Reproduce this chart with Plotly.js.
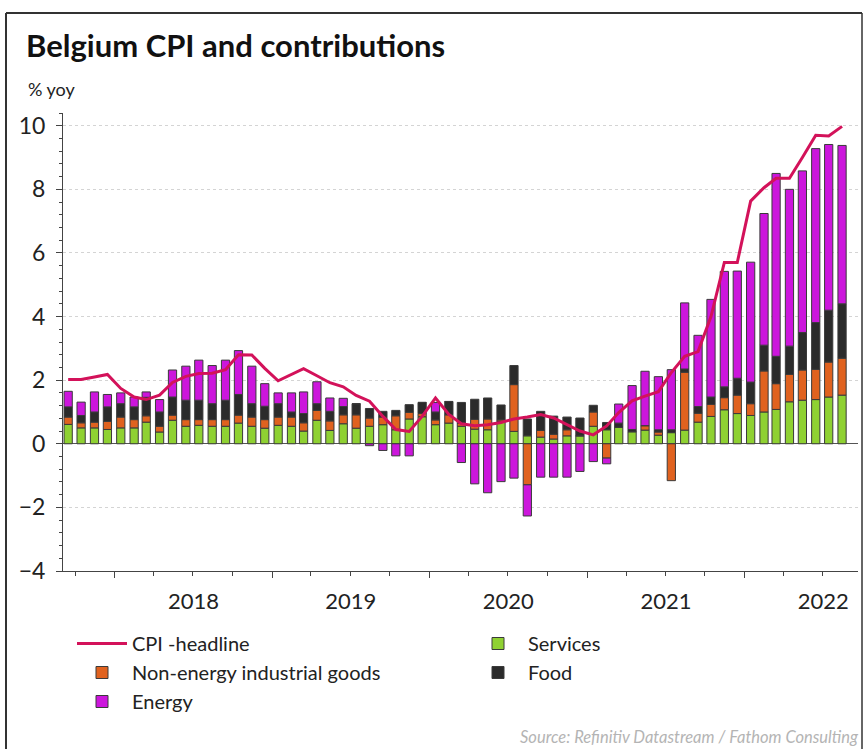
<!DOCTYPE html>
<html>
<head>
<meta charset="utf-8">
<script src="https://cdn.plot.ly/plotly-3.0.1.min.js"></script>
<style>
html,body{margin:0;padding:0;background:#fff;}
#chart{width:868px;height:749px;}
</style>
</head>
<body>
<div id="chart"></div>
<script>
// Monthly observations (plotted mid-month)
const months = [
 '2017-09-15','2017-10-15','2017-11-15','2017-12-15',
 '2018-01-15','2018-02-15','2018-03-15','2018-04-15','2018-05-15','2018-06-15','2018-07-15','2018-08-15','2018-09-15','2018-10-15','2018-11-15','2018-12-15',
 '2019-01-15','2019-02-15','2019-03-15','2019-04-15','2019-05-15','2019-06-15','2019-07-15','2019-08-15','2019-09-15','2019-10-15','2019-11-15','2019-12-15',
 '2020-01-15','2020-02-15','2020-03-15','2020-04-15','2020-05-15','2020-06-15','2020-07-15','2020-08-15','2020-09-15','2020-10-15','2020-11-15','2020-12-15',
 '2021-01-15','2021-02-15','2021-03-15','2021-04-15','2021-05-15','2021-06-15','2021-07-15','2021-08-15','2021-09-15','2021-10-15','2021-11-15','2021-12-15',
 '2022-01-15','2022-02-15','2022-03-15','2022-04-15','2022-05-15','2022-06-15','2022-07-15','2022-08-15'
];

const services = [
 0.61,0.50,0.50,0.45,
 0.50,0.50,0.68,0.37,0.74,0.55,0.58,0.55,0.55,0.65,0.55,0.49,
 0.58,0.55,0.40,0.74,0.42,0.63,0.49,0.55,0.60,0.44,0.78,0.85,
 0.60,0.65,0.55,0.46,0.44,0.70,0.39,0.25,0.21,0.15,0.25,0.25,
 0.55,0.44,0.52,0.38,0.43,0.27,0.35,0.43,0.68,0.86,1.07,0.95,
 0.89,1.00,1.08,1.32,1.37,1.39,1.47,1.53
];

const nonEnergyGoods = [
 0.23,0.16,0.18,0.25,
 0.34,0.26,0.20,0.18,0.16,0.21,0.18,0.21,0.21,0.25,0.29,0.27,
 0.26,0.29,0.26,0.31,0.30,0.28,0.42,0.26,0.24,0.44,0.21,0.10,
 0.15,0.26,0.10,0.31,0.34,0.05,1.47,-1.29,0.21,0.15,0.19,0.00,
 0.45,-0.45,0.00,0.00,0.14,0.10,-1.16,1.82,0.28,0.38,0.38,0.58,
 0.37,1.29,0.81,0.86,0.95,0.95,1.10,1.16
];

const food = [
 0.32,0.23,0.32,0.46,
 0.42,0.40,0.58,0.45,0.57,0.61,0.61,0.50,0.61,0.65,0.42,0.42,
 0.42,0.16,0.29,0.21,0.30,0.26,0.35,0.30,0.18,0.17,0.24,0.35,
 0.25,0.42,0.65,0.63,0.66,0.47,0.60,0.53,0.60,0.57,0.40,0.56,
 0.21,0.23,0.13,0.07,0.00,0.07,0.09,0.10,0.21,0.23,0.34,0.53,
 0.68,0.81,0.86,0.89,1.18,1.47,1.63,1.71
];

const energy = [
 0.49,0.42,0.63,0.39,
 0.34,0.31,0.17,0.39,0.85,1.07,1.26,1.20,1.26,1.38,1.18,0.71,
 0.34,0.60,0.68,0.69,0.42,0.26,0.00,-0.06,-0.21,-0.38,-0.38,0.00,
 0.30,0.00,-0.59,-1.26,-1.54,-1.19,-1.08,-0.98,-1.05,-1.05,-1.05,-0.87,
 -0.56,-0.18,0.60,1.38,1.71,1.67,1.89,2.08,2.24,3.07,3.63,3.37,
 3.77,4.14,5.75,4.93,5.08,5.47,5.21,4.98
];

const cpiHeadline = [
 2.02,2.02,2.10,2.18,
 1.74,1.47,1.39,1.53,1.93,2.12,2.21,2.22,2.33,2.80,2.79,2.37,
 1.98,2.18,2.36,2.14,1.92,1.79,1.52,1.34,0.86,0.45,0.39,0.86,
 1.44,0.92,0.63,0.57,0.60,0.67,0.78,0.84,0.92,0.81,0.60,0.40,
 0.28,0.56,0.98,1.35,1.50,1.64,2.24,2.75,2.90,4.00,5.70,5.70,
 7.63,8.05,8.35,8.35,9.00,9.70,9.68,9.98
];

const FONT = 'Lato, "Open Sans", "Liberation Sans", sans-serif';
const BAR_W = 1.65e9;
const OUTLINE = {color:'#3a3a3a', width:1};

function barTrace(name, y, color, leg, rank){
  return {type:'bar', name:name, x:months, y:y, width:BAR_W,
    marker:{color:color, line:OUTLINE}, legend:leg, legendrank:rank, hoverinfo:'x+y+name'};
}

const data = [
  barTrace('Services', services, '#8fd132', 'legend2', 1),
  barTrace('Non-energy industrial goods', nonEnergyGoods, '#e0621f', 'legend', 2),
  barTrace('Food', food, '#2b2b2b', 'legend2', 2),
  barTrace('Energy', energy, '#cc16dc', 'legend', 3),
  {type:'scatter', mode:'lines', name:'CPI -headline', x:months, y:cpiHeadline,
   line:{color:'#d3125a', width:3}, legend:'legend', legendrank:1}
];

// plot area: left 63, right 858, top 113, bottom 571
const L=63, R=10, T=113, B=178, W=868, H=749;
const PW = W-L-R, PH = H-T-B;
function px(x){return (x-L)/PW;}
function py(y){return (H-B-y)/PH;}

const legendCommon = {
  orientation:'v', xanchor:'left', yanchor:'top',
  font:{family:FONT, size:20, color:'#222'}, itemwidth:50,
  bgcolor:'rgba(0,0,0,0)', traceorder:'normal', tracegroupgap:0
};

const layout = {
  width:W, height:H,
  margin:{l:L, r:R, t:T, b:B, autoexpand:false},
  paper_bgcolor:'#ffffff', plot_bgcolor:'#ffffff',
  font:{family:FONT, color:'#222', size:20},
  barmode:'relative',
  bargap:0,
  title:{text:'<b>Belgium CPI and contributions</b>', font:{family:FONT, size:31, color:'#111'},
         x:26/W, xref:'container', xanchor:'left', y:1-46/H, yref:'container', yanchor:'middle'},
  xaxis:{type:'date', range:['2017-09-03','2022-09-21'],
    tick0:'2018-01-01', dtick:'M12', ticklabelmode:'period',
    ticks:'outside', ticklen:6, tickcolor:'#444',
    minor:{dtick:'M3', ticks:'outside', ticklen:4, tickcolor:'#444', showgrid:false},
    showgrid:false, zeroline:false, showline:true, linecolor:'#444', linewidth:1,
    tickfont:{family:FONT, size:22, color:'#222'}, ticklabelstandoff:5, fixedrange:true},
  yaxis:{range:[-4,10.4], dtick:2, tick0:0,
    ticks:'outside', ticklen:6, tickcolor:'#444',
    minor:{dtick:0.4, ticks:'outside', ticklen:3, tickcolor:'#444', showgrid:false},
    showgrid:true, gridcolor:'#d4d4d4', griddash:'dot', gridwidth:1,
    zeroline:true, zerolinecolor:'#555', zerolinewidth:1,
    showline:true, linecolor:'#444', linewidth:1,
    tickfont:{family:FONT, size:23, color:'#222'}, ticklabelstandoff:6, fixedrange:true},
  showlegend:true,
  legend:Object.assign({}, legendCommon, {x:px(72), y:py(624)}),
  legend2:Object.assign({}, legendCommon, {x:px(468), y:py(624)}),
  annotations:[
    {text:'% yoy', xref:'paper', yref:'paper', x:px(26), y:py(89), xanchor:'left', yanchor:'middle',
     showarrow:false, font:{family:FONT, size:18, color:'#222'}},
    {text:'<i>Source: Refinitiv Datastream / Fathom Consulting</i>', xref:'paper', yref:'paper',
     x:px(861), y:py(737), xanchor:'right', yanchor:'middle', showarrow:false,
     font:{family:FONT, size:16.5, color:'#b4b4b4'}}
  ],
  shapes:[
    {type:'line', xref:'paper', yref:'paper', x0:px(6), x1:px(6), y0:py(13), y1:py(760), line:{color:'#333', width:2}},
    {type:'line', xref:'paper', yref:'paper', x0:px(6), x1:px(862), y0:py(13), y1:py(13), line:{color:'#333', width:2}},
    {type:'line', xref:'paper', yref:'paper', x0:px(862), x1:px(862), y0:py(13), y1:py(760), line:{color:'#333', width:1.5}}
  ]
};

Plotly.newPlot('chart', data, layout, {displayModeBar:false, staticPlot:true});
</script>
</body>
</html>
